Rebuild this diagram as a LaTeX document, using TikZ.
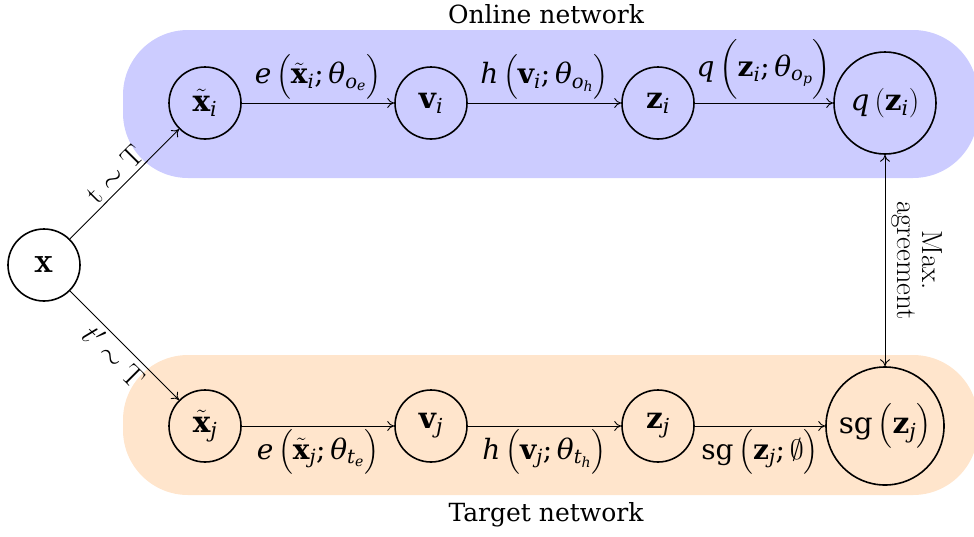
\RequirePackage{fix-cm}
\documentclass[tikz,border=0pt]{standalone}
\usepackage{amsmath}
\usepackage{fontspec}
\usetikzlibrary{arrows.meta}
\newfontfamily\lblfont{DejaVu Serif}
% label glyphs: italic, bold and upright in the label face
\newcommand{\li}[1]{\text{\lblfont\itshape #1}}
\newcommand{\lb}[1]{\text{\lblfont\bfseries #1}}
\newcommand{\lr}[1]{\text{\lblfont #1}}

\tikzset{
  vtx/.style={circle, draw, line width=1.6pt, minimum size=72pt, inner sep=0pt,
    font=\fontsize{29.5}{33}\selectfont},
  flow/.style={-{To[length=7pt,width=10pt]}, line width=0.9pt},
  both/.style={{To[length=7pt,width=10pt]}-{To[length=7pt,width=10pt]}, line width=0.9pt},
  band/.style={rounded corners=65pt},
  title/.style={font=\lblfont\fontsize{25}{29}\selectfont},
  elbl/.style={font=\fontsize{28}{32}\selectfont},
  plain/.style={font=\fontsize{29}{25}\selectfont},
}

\begin{document}
\begin{tikzpicture}[x=1pt, y=-1pt]
\useasboundingbox (0,0) rectangle (974,536);

% background bands of the two branches
\fill[blue!20, band] (123,30) rectangle (978,178);
\fill[orange!20, band] (123,355) rectangle (978,495);

\node[title] (online) at (546,14) {Online network};
\node[title] (target) at (546,515) {Target network};

% input
\node[vtx, font=\fontsize{36}{40}\selectfont] (x) at (44,265) {$\mathbf{x}$};

% online branch
\node[vtx] (xti) at (205,103) {$\tilde{\lb{x}}_{\li{i}}$};
\node[vtx] (vi)  at (431,103) {$\lb{v}_{\li{i}}$};
\node[vtx] (zi)  at (658,103) {$\lb{z}_{\li{i}}$};
\node[vtx, minimum size=102pt] (qz) at (885,103) {$\li{q}\left(\lb{z}_{\li{i}}\right)$};

% target branch
\node[vtx] (xtj) at (205,426) {$\tilde{\lb{x}}_{\li{j}}$};
\node[vtx] (vj)  at (431,426) {$\lb{v}_{\li{j}}$};
\node[vtx] (zj)  at (658,426) {$\lb{z}_{\li{j}}$};
\node[vtx, minimum size=118pt] (sg) at (885,426) {$\lr{sg}\left(\lb{z}_{\li{j}}\right)$};

% augmentations
\draw[flow] (x) -- node[plain, above, sloped] {$\mathrm{t}\sim\mathrm{T}$} (xti);
\draw[flow] (x) -- node[plain, below, sloped] {$t'\sim\mathrm{T}$} (xtj);

% online edges
\draw[flow] (xti) -- node[elbl, above=0pt] {$\li{e}\,\bigl(\tilde{\lb{x}}_{\li{i}}\lr{;}\,\li{θ}_{\li{o}_{\li{e}}}\bigr)$} (vi);
\draw[flow] (vi) -- node[elbl, above=0pt] {$\li{h}\,\bigl(\lb{v}_{\li{i}}\lr{;}\,\li{θ}_{\li{o}_{\li{h}}}\bigr)$} (zi);
\draw[flow] (zi) -- node[elbl, above=0pt] {$\li{q}\,\Bigl(\lb{z}_{\li{i}}\lr{;}\,\li{θ}_{\li{o}_{\li{p}}}\Bigr)$} (qz);

% target edges
\draw[flow] (xtj) -- node[elbl, below=0pt] {$\li{e}\,\bigl(\tilde{\lb{x}}_{\li{j}}\lr{;}\,\li{θ}_{\li{t}_{\li{e}}}\bigr)$} (vj);
\draw[flow] (vj) -- node[elbl, below=0pt] {$\li{h}\,\bigl(\lb{v}_{\li{j}}\lr{;}\,\li{θ}_{\li{t}_{\li{h}}}\bigr)$} (zj);
\draw[flow] (zj) -- node[elbl, below=0pt] {$\lr{sg}\,\bigl(\lb{z}_{\li{j}}\lr{;}\,\emptyset\bigr)$} (sg);

% agreement between the branches
\draw[both] (qz) -- node[plain, rotate=-90, anchor=south, align=center, inner sep=6pt] {Max.\\agreement} (sg);
\end{tikzpicture}
\end{document}
